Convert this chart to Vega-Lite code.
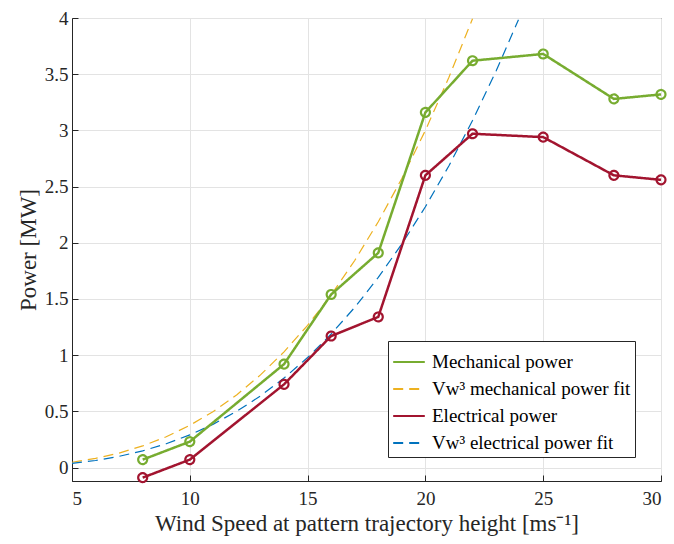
{
  "$schema": "https://vega.github.io/schema/vega-lite/v6.json",
  "width": 589,
  "height": 463,
  "autosize": {"type": "none"},
  "padding": {"left": 72, "top": 18, "right": 13, "bottom": 63},
  "background": "white",
  "config": {
    "font": "Liberation Serif, Times New Roman, serif",
    "view": {"stroke": "#262626", "strokeWidth": 1},
    "axis": {
      "labelFont": "Liberation Serif, Times New Roman, serif",
      "titleFont": "Liberation Serif, Times New Roman, serif",
      "labelFontSize": 19,
      "titleFontSize": 23,
      "titleFontWeight": "normal",
      "labelColor": "#262626",
      "titleColor": "#262626",
      "domainColor": "#262626",
      "tickColor": "#262626",
      "gridColor": "#e3e3e3",
      "gridWidth": 1
    },
    "legend": {
      "labelFont": "Liberation Serif, Times New Roman, serif",
      "labelFontSize": 19,
      "labelColor": "#000000",
      "labelLimit": 400
    }
  },
  "data": {
    "values": [
      {"x": 8, "y": 0.07, "series": "Mechanical power"},
      {"x": 10, "y": 0.23, "series": "Mechanical power"},
      {"x": 14, "y": 0.92, "series": "Mechanical power"},
      {"x": 16, "y": 1.54, "series": "Mechanical power"},
      {"x": 18, "y": 1.91, "series": "Mechanical power"},
      {"x": 20, "y": 3.16, "series": "Mechanical power"},
      {"x": 22, "y": 3.62, "series": "Mechanical power"},
      {"x": 25, "y": 3.68, "series": "Mechanical power"},
      {"x": 28, "y": 3.28, "series": "Mechanical power"},
      {"x": 30, "y": 3.32, "series": "Mechanical power"},
      {"x": 8, "y": -0.09, "series": "Electrical power"},
      {"x": 10, "y": 0.07, "series": "Electrical power"},
      {"x": 14, "y": 0.74, "series": "Electrical power"},
      {"x": 16, "y": 1.17, "series": "Electrical power"},
      {"x": 18, "y": 1.34, "series": "Electrical power"},
      {"x": 20, "y": 2.60, "series": "Electrical power"},
      {"x": 22, "y": 2.97, "series": "Electrical power"},
      {"x": 25, "y": 2.94, "series": "Electrical power"},
      {"x": 28, "y": 2.60, "series": "Electrical power"},
      {"x": 30, "y": 2.56, "series": "Electrical power"},
      {"x": 5, "y": 0.0469, "series": "Vw³ mechanical power fit"},
      {"x": 6, "y": 0.081, "series": "Vw³ mechanical power fit"},
      {"x": 7, "y": 0.1286, "series": "Vw³ mechanical power fit"},
      {"x": 8, "y": 0.192, "series": "Vw³ mechanical power fit"},
      {"x": 9, "y": 0.2734, "series": "Vw³ mechanical power fit"},
      {"x": 10, "y": 0.375, "series": "Vw³ mechanical power fit"},
      {"x": 11, "y": 0.4991, "series": "Vw³ mechanical power fit"},
      {"x": 12, "y": 0.648, "series": "Vw³ mechanical power fit"},
      {"x": 13, "y": 0.8239, "series": "Vw³ mechanical power fit"},
      {"x": 14, "y": 1.029, "series": "Vw³ mechanical power fit"},
      {"x": 15, "y": 1.2656, "series": "Vw³ mechanical power fit"},
      {"x": 16, "y": 1.536, "series": "Vw³ mechanical power fit"},
      {"x": 17, "y": 1.8424, "series": "Vw³ mechanical power fit"},
      {"x": 18, "y": 2.187, "series": "Vw³ mechanical power fit"},
      {"x": 19, "y": 2.5721, "series": "Vw³ mechanical power fit"},
      {"x": 20, "y": 3.0, "series": "Vw³ mechanical power fit"},
      {"x": 21, "y": 3.4729, "series": "Vw³ mechanical power fit"},
      {"x": 22, "y": 3.993, "series": "Vw³ mechanical power fit"},
      {"x": 5, "y": 0.0363, "series": "Vw³ electrical power fit"},
      {"x": 6, "y": 0.0626, "series": "Vw³ electrical power fit"},
      {"x": 7, "y": 0.0995, "series": "Vw³ electrical power fit"},
      {"x": 8, "y": 0.1485, "series": "Vw³ electrical power fit"},
      {"x": 9, "y": 0.2114, "series": "Vw³ electrical power fit"},
      {"x": 10, "y": 0.29, "series": "Vw³ electrical power fit"},
      {"x": 11, "y": 0.386, "series": "Vw³ electrical power fit"},
      {"x": 12, "y": 0.5011, "series": "Vw³ electrical power fit"},
      {"x": 13, "y": 0.6371, "series": "Vw³ electrical power fit"},
      {"x": 14, "y": 0.7958, "series": "Vw³ electrical power fit"},
      {"x": 15, "y": 0.9788, "series": "Vw³ electrical power fit"},
      {"x": 16, "y": 1.1878, "series": "Vw³ electrical power fit"},
      {"x": 17, "y": 1.4248, "series": "Vw³ electrical power fit"},
      {"x": 18, "y": 1.6913, "series": "Vw³ electrical power fit"},
      {"x": 19, "y": 1.9891, "series": "Vw³ electrical power fit"},
      {"x": 20, "y": 2.32, "series": "Vw³ electrical power fit"},
      {"x": 21, "y": 2.6857, "series": "Vw³ electrical power fit"},
      {"x": 22, "y": 3.0879, "series": "Vw³ electrical power fit"},
      {"x": 23, "y": 3.5284, "series": "Vw³ electrical power fit"},
      {"x": 23.95, "y": 3.984, "series": "Vw³ electrical power fit"}
    ]
  },
  "encoding": {
    "x": {
      "field": "x", "type": "quantitative",
      "scale": {"domain": [5, 30], "nice": false, "zero": false},
      "axis": {"values": [5, 10, 15, 20, 25, 30], "labelExpr": "datum.value + ''", "title": "Wind Speed at pattern trajectory height [ms⁻¹]", "tickSize": -6, "labelPadding": 14, "titlePadding": 4, "grid": true}
    },
    "y": {
      "field": "y", "type": "quantitative",
      "scale": {"domain": [-0.12, 4], "nice": false, "zero": false},
      "axis": {"values": [0, 0.5, 1, 1.5, 2, 2.5, 3, 3.5, 4], "labelExpr": "datum.value + ''", "title": "Power [MW]", "tickSize": -6, "labelPadding": 10, "titlePadding": 4, "grid": true}
    },
    "color": {
      "field": "series", "type": "nominal",
      "scale": {
        "domain": ["Mechanical power", "Vw³ mechanical power fit", "Electrical power", "Vw³ electrical power fit"],
        "range": ["#77AC30", "#EDB120", "#A2142F", "#0072BD"]
      },
      "legend": {
        "title": null, "orient": "none", "legendX": 316, "legendY": 323,
        "symbolType": "stroke", "symbolSize": 1000, "symbolStrokeWidth": 2,
        "strokeColor": "#262626", "fillColor": "white", "padding": 4,
        "rowPadding": 0, "labelOffset": 6
      }
    },
    "strokeDash": {
      "field": "series", "type": "nominal",
      "scale": {
        "domain": ["Mechanical power", "Vw³ mechanical power fit", "Electrical power", "Vw³ electrical power fit"],
        "range": [[1, 0], [10, 6], [1, 0], [10, 6]]
      }
    }
  },
  "layer": [
    {
      "mark": {"type": "line", "strokeWidth": 1.2, "clip": true},
      "transform": [{"filter": "indexof(datum.series, 'fit') >= 0"}]
    },
    {
      "mark": {"type": "line", "strokeWidth": 2.5, "point": {"filled": false, "size": 80, "strokeWidth": 2.2}},
      "transform": [{"filter": "indexof(datum.series, 'fit') < 0"}],
      "encoding": {}
    }
  ]
}
